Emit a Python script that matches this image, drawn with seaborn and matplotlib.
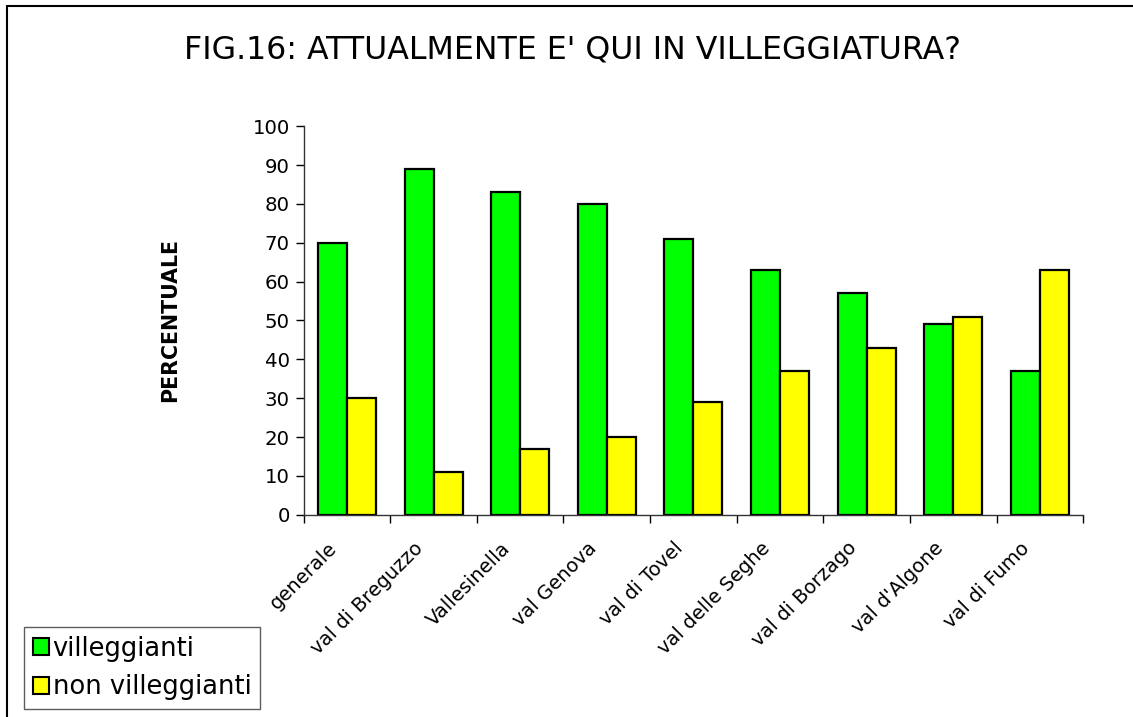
import matplotlib
matplotlib.use("Agg")
import matplotlib.pyplot as plt
import matplotlib.transforms as mtransforms
import seaborn as sns
import pandas as pd
from matplotlib.patches import Rectangle, Patch

categories = ["generale", "val di Breguzzo", "Vallesinella", "val Genova", "val di Tovel",
              "val delle Seghe", "val di Borzago", "val d'Algone", "val di Fumo"]
villeggianti = [70, 89, 83, 80, 71, 63, 57, 49, 37]
non_villeggianti = [30, 11, 17, 20, 29, 37, 43, 51, 63]
series = ["villeggianti", "non villeggianti"]
colori = ["#00FF00", "#FFFF00"]

df = pd.DataFrame({
    "luogo": categories * 2,
    "valore": villeggianti + non_villeggianti,
    "gruppo": [series[0]] * len(categories) + [series[1]] * len(categories),
})

sns.set_style("white")
plt.rcParams["font.family"] = ["DejaVu Sans"]
plt.rcParams["text.color"] = "black"
plt.rcParams["axes.labelcolor"] = "black"
plt.rcParams["xtick.color"] = "black"
plt.rcParams["ytick.color"] = "black"

fig = plt.figure(figsize=(11.33, 7.17), dpi=100)
ax = fig.add_axes([0.268, 0.282, 0.688, 0.542])

sns.barplot(data=df, x="luogo", y="valore", hue="gruppo", palette=colori,
            width=0.67, edgecolor="black", linewidth=1.6, saturation=1,
            legend=False, ax=ax)

ax.set_ylim(0, 100)
ax.set_xlim(-0.5, len(categories) - 0.5)
ax.set_yticks(range(0, 101, 10))
ax.tick_params(axis="y", labelsize=14.2, length=6, width=1, direction="out", left=True, pad=4)
ax.set_xticks(range(len(categories)))
ax.set_xticklabels(categories, rotation=45, ha="right", va="top", rotation_mode="anchor", fontsize=14)
ax.tick_params(axis="x", length=0, pad=12)
ax.set_xticks([i - 0.5 for i in range(len(categories) + 1)], minor=True)
ax.tick_params(axis="x", which="minor", length=6, width=1, direction="out", bottom=True)

# sposta le etichette un po' a sinistra e in basso
offset = mtransforms.ScaledTranslation(-20 / 100, -7 / 100, fig.dpi_scale_trans)
for lab in ax.get_xticklabels():
    lab.set_transform(lab.get_transform() + offset)

for s in ["top", "right"]:
    ax.spines[s].set_visible(False)
for s in ["left", "bottom"]:
    ax.spines[s].set_color("#333333")
    ax.spines[s].set_linewidth(1)

ax.set_xlabel("")
ax.set_ylabel("PERCENTUALE", fontsize=14.8, fontweight="bold")
ax.yaxis.set_label_coords(-0.158, 0.5)

fig.text(572 / 1133, 0.93, "FIG.16: ATTUALMENTE E' QUI IN VILLEGGIATURA?", ha="center", va="center", fontsize=22.8)

handles = [Patch(facecolor=c, edgecolor="black", linewidth=1.5) for c in colori]
leg = fig.legend(handles, series, loc="upper left", bbox_to_anchor=(0.021, 0.126),
                 fontsize=18.5, frameon=True, fancybox=False, edgecolor="#333333",
                 handlelength=0.62, handleheight=0.62, handletextpad=0.15,
                 borderpad=0.35, labelspacing=0.5, borderaxespad=0)
leg.get_frame().set_linewidth(1)

fig.patches.append(Rectangle((7 / 1133, -0.05), 1.2, 1 - 6 / 717 + 0.05, transform=fig.transFigure,
                             fill=False, edgecolor="black", linewidth=1.5))

fig.savefig("out.png", dpi=100)
